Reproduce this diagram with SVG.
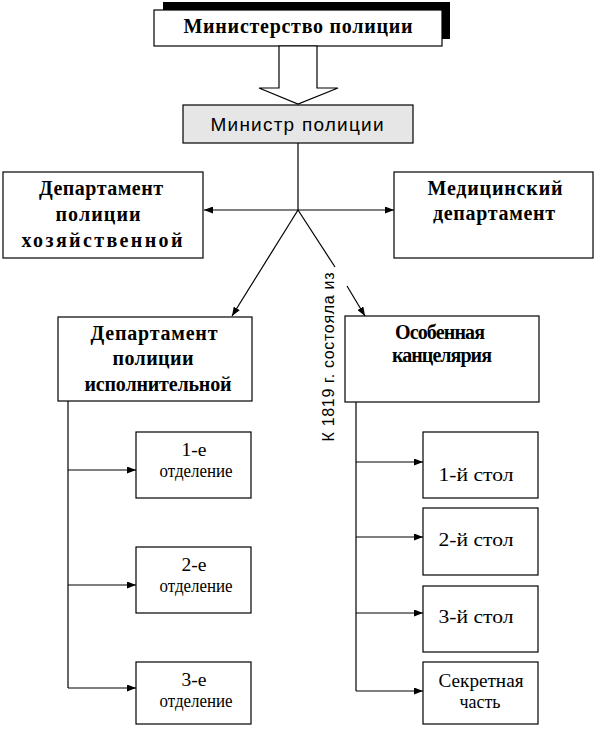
<svg xmlns="http://www.w3.org/2000/svg" width="597" height="730" viewBox="0 0 597 730">
<style>
.box{fill:#fff;stroke:#000;stroke-width:1.2}
.gray{fill:#e6e6e6;stroke:#000;stroke-width:1.2}
.ln{fill:none;stroke:#000;stroke-width:1.2}
.b{font-family:"Liberation Serif","Times New Roman",serif;font-weight:bold;font-size:20px;text-anchor:middle;fill:#000}
.r{font-family:"Liberation Serif","Times New Roman",serif;font-size:19px;text-anchor:middle;fill:#000}
.s{font-family:"Liberation Sans",Arial,sans-serif;text-anchor:middle;fill:#000}
</style>
<defs>
<marker id="ah" markerWidth="9" markerHeight="7" refX="9" refY="3.5" orient="auto" markerUnits="userSpaceOnUse">
<path d="M0,0 L9,3.5 L0,7 z" fill="#000"/>
</marker>
</defs>

<g id="ministerstvo">
<rect x="163" y="2" width="287" height="37" fill="#000"/>
<rect class="box" x="154" y="10" width="288" height="36"/>
<text class="b" x="298" y="33" font-size="19" textLength="229" lengthAdjust="spacing">Министерство полиции</text>
</g>

<g id="big-arrow">
<polygon class="box" points="279,46 317,46 317,88 338,88 298,104 259,88 279,88"/>
</g>

<g id="ministr">
<rect class="gray" x="183" y="105" width="230" height="38"/>
<text class="s" x="297" y="131" font-size="19" textLength="173" lengthAdjust="spacing">Министр полиции</text>
</g>

<g id="dep-hoz">
<rect class="box" x="3" y="172" width="200" height="86"/>
<text class="b" x="101" y="195" textLength="124" lengthAdjust="spacing">Департамент</text>
<text class="b" x="98" y="221" textLength="85" lengthAdjust="spacing">полиции</text>
<text class="b" x="102" y="247" textLength="161" lengthAdjust="spacing">хозяйственной</text>
</g>

<g id="dep-med">
<rect class="box" x="394" y="172" width="199" height="86"/>
<text class="b" x="495" y="195" textLength="135" lengthAdjust="spacing">Медицинский</text>
<text class="b" x="494" y="220" textLength="122" lengthAdjust="spacing">департамент</text>
</g>

<g id="dep-isp">
<rect class="box" x="58" y="317" width="194" height="84"/>
<text class="b" x="154" y="340" textLength="127" lengthAdjust="spacing">Департамент</text>
<text class="b" x="153" y="365" textLength="81" lengthAdjust="spacing">полиции</text>
<text class="b" x="158" y="391" textLength="147" lengthAdjust="spacing">исполнительной</text>
</g>

<g id="osob-kanc">
<rect class="box" x="345" y="316" width="194" height="86"/>
<text class="b" x="440" y="339" font-size="18" textLength="90" lengthAdjust="spacing">Особенная</text>
<text class="b" x="442" y="362" font-size="18" textLength="100" lengthAdjust="spacing">канцелярия</text>
</g>

<g id="otd1">
<rect class="box" x="136" y="432" width="115" height="66"/>
<text class="r" x="194" y="456" textLength="25" lengthAdjust="spacingAndGlyphs">1-е</text>
<text class="r" x="196" y="477" textLength="73" lengthAdjust="spacingAndGlyphs">отделение</text>
</g>
<g id="otd2">
<rect class="box" x="136" y="547" width="115" height="66"/>
<text class="r" x="194" y="571" textLength="25" lengthAdjust="spacingAndGlyphs">2-е</text>
<text class="r" x="196" y="592" textLength="73" lengthAdjust="spacingAndGlyphs">отделение</text>
</g>
<g id="otd3">
<rect class="box" x="136" y="662" width="115" height="62"/>
<text class="r" x="194" y="686" textLength="25" lengthAdjust="spacingAndGlyphs">3-е</text>
<text class="r" x="196" y="707" textLength="73" lengthAdjust="spacingAndGlyphs">отделение</text>
</g>

<g id="stol1">
<rect class="box" x="423" y="432" width="115" height="66"/>
<text class="r" x="476" y="481" font-size="21" textLength="75" lengthAdjust="spacingAndGlyphs">1-й стол</text>
</g>
<g id="stol2">
<rect class="box" x="423" y="508" width="115" height="67"/>
<text class="r" x="476" y="546" font-size="21" textLength="75" lengthAdjust="spacingAndGlyphs">2-й стол</text>
</g>
<g id="stol3">
<rect class="box" x="423" y="586" width="115" height="66"/>
<text class="r" x="476" y="623" font-size="21" textLength="75" lengthAdjust="spacingAndGlyphs">3-й стол</text>
</g>
<g id="sekret">
<rect class="box" x="423" y="662" width="115" height="62"/>
<text class="r" x="481" y="687" textLength="85" lengthAdjust="spacingAndGlyphs">Секретная</text>
<text class="r" x="480" y="708" textLength="41" lengthAdjust="spacingAndGlyphs">часть</text>
</g>

<g id="label-1819">
<text class="s" font-size="16" transform="translate(334,357) rotate(-90)" textLength="169" lengthAdjust="spacing">К 1819 г. состояла из</text>
</g>

<g id="connectors">
<line class="ln" x1="298" y1="143" x2="298" y2="210"/>
<line class="ln" x1="298" y1="210" x2="204" y2="210" marker-end="url(#ah)"/>
<line class="ln" x1="298" y1="210" x2="394" y2="210" marker-end="url(#ah)"/>
<line class="ln" x1="298" y1="210" x2="232" y2="316" marker-end="url(#ah)"/>
<line class="ln" x1="298" y1="210" x2="335" y2="267"/>
<line class="ln" x1="347" y1="286" x2="365" y2="316" marker-end="url(#ah)"/>
<polyline class="ln" points="68,401 68,688"/>
<line class="ln" x1="68" y1="470" x2="136" y2="470" marker-end="url(#ah)"/>
<line class="ln" x1="68" y1="585" x2="136" y2="585" marker-end="url(#ah)"/>
<line class="ln" x1="68" y1="688" x2="136" y2="688" marker-end="url(#ah)"/>
<polyline class="ln" points="356,402 356,691"/>
<line class="ln" x1="356" y1="462" x2="423" y2="462" marker-end="url(#ah)"/>
<line class="ln" x1="356" y1="537" x2="423" y2="537" marker-end="url(#ah)"/>
<line class="ln" x1="356" y1="613" x2="423" y2="613" marker-end="url(#ah)"/>
<line class="ln" x1="356" y1="691" x2="423" y2="691" marker-end="url(#ah)"/>
</g>
</svg>
